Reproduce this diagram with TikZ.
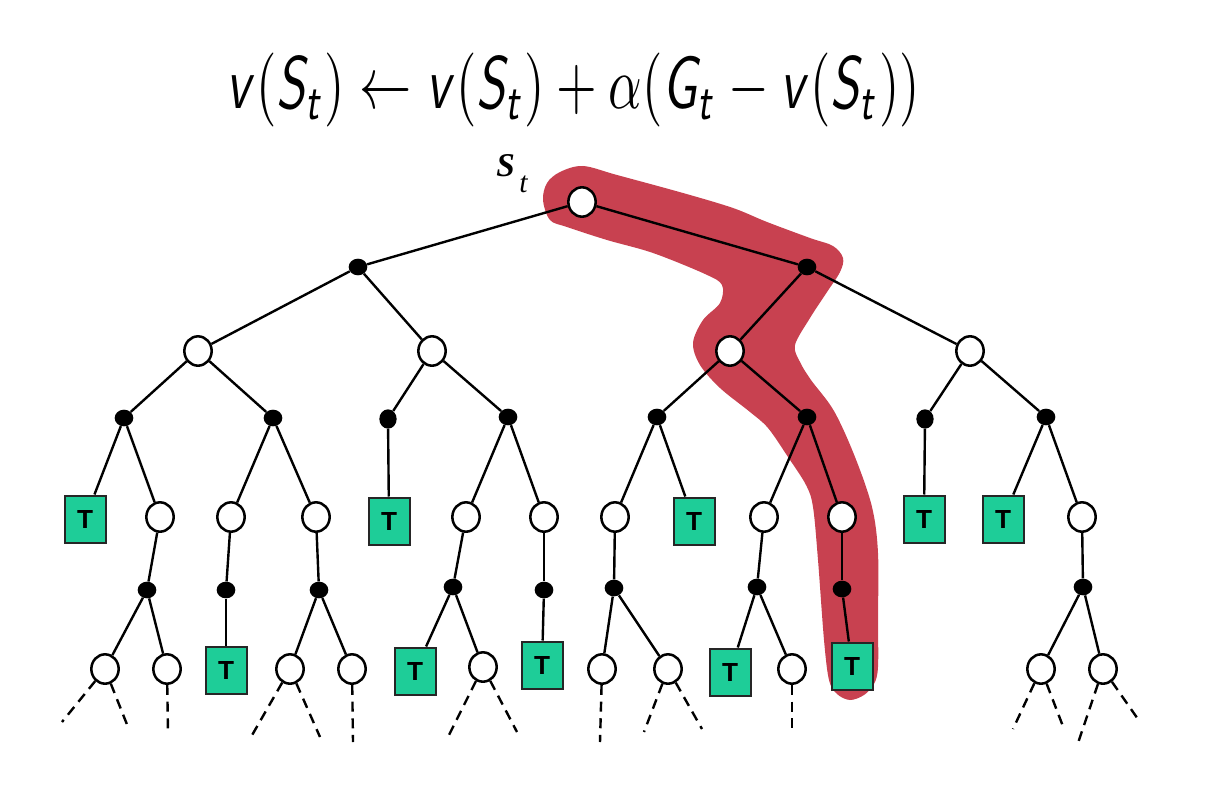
\documentclass[tikz,border=0pt]{standalone}
\usepackage{fontspec}
\usepackage{graphicx}
\usetikzlibrary{shapes.geometric}
\newfontfamily\tfont{Liberation Sans}
\newfontfamily\timesf{Liberation Serif}
\DeclareMathAlphabet{\mathsfsl}{OT1}{cmss}{m}{sl}
\definecolor{tgreen}{RGB}{30,205,152}
\definecolor{hl}{RGB}{200,65,80}
\newcommand{\myv}{\mathsfsl{v}}
\newcommand{\mySt}{\mathsfsl{S}_{\mathsfsl{t}}}
\newcommand{\myGt}{\mathsfsl{G}_{\mathsfsl{t}}}
\newcommand{\Tlab}{\resizebox{!}{13.5pt}{\tfont\bfseries T}}
\tikzset{
  stnode/.style={ellipse, draw, fill=white, line width=1.9pt, minimum width=20.5pt, minimum height=22pt, inner sep=0pt},
  acnode/.style={ellipse, fill=black, minimum width=14pt, minimum height=12.5pt, inner sep=0pt},
  actall/.style={acnode, minimum width=13pt, minimum height=14.5pt},
  term/.style={rectangle, draw=black!85, fill=tgreen, line width=1.5pt, minimum width=30.75pt, minimum height=35.25pt, inner sep=0pt, text=black},
  edg/.style={line width=1.8pt},
  dsh/.style={line width=1.8pt, dash pattern=on 7.5pt off 5pt},
}
\begin{document}
\begin{tikzpicture}[x=0.75pt,y=-0.75pt]
\useasboundingbox (0,0) rectangle (1206,788);
% highlight
\fill[hl] plot[smooth cycle, tension=0.55] coordinates {
(543,200) (547,183) (560,172) (583,166) (617,175) (683,193) (733,208) (767,222) (810,238) (833,246) (843,258) (840,272) (827,292) (810,318) (795,345) (800,362) (811,380) (834,411) (855,457) (872,507) (878,553) (878,620) (878,667) (874,684) (864,695) (850,700) (837,694) (829,680) (824,640) (818,560) (813,507) (806,485) (788,457) (768,428) (750,412) (720,388) (700,365) (693,343) (703,320) (720,303) (722,285) (705,274) (653,253) (607,240) (567,227) (550,220)};
% formula
\node[inner sep=0pt] (eq) at (573,90) {\resizebox*{520pt}{55.5pt}{$\myv(\mySt) \leftarrow \myv(\mySt) + \alpha(\myGt - \myv(\mySt))$}};
% S_t label
\node[anchor=base west, inner sep=0pt] (ls) at (496,177) {\resizebox{!}{16.5pt}{\timesf\bfseries\itshape S}};
\node[anchor=base west, inner sep=0pt] (lt) at (519,192) {\resizebox{!}{12.5pt}{\timesf\itshape t}};
% level 0-3
\node[stnode] (r) at (582,202) {};
\node[acnode] (a1) at (358,267) {};
\node[acnode] (a2) at (807,267) {};
\node[stnode] (s1) at (198,351) {};
\node[stnode] (s2) at (432,351) {};
\node[stnode] (s3) at (730,351) {};
\node[stnode] (s4) at (970,351) {};
\node[acnode] (b1) at (124,418) {};
\node[acnode] (b2) at (273,418) {};
\node[actall] (b3) at (388,419) {};
\node[acnode] (b4) at (508,417) {};
\node[acnode] (b5) at (657,417) {};
\node[acnode] (b6) at (807,417) {};
\node[actall] (b7) at (925,419) {};
\node[acnode] (b8) at (1046,417) {};
% level 4
\node[term] (t1) at (85,519) {\Tlab};
\node[stnode] (u1) at (160,517) {};
\node[stnode] (u2) at (231,517) {};
\node[stnode] (u3) at (316,517) {};
\node[term] (t2) at (389,521) {\Tlab};
\node[stnode] (u4) at (466,517) {};
\node[stnode] (u5) at (544,517) {};
\node[stnode] (u6) at (615,517) {};
\node[term] (t3) at (694,521) {\Tlab};
\node[stnode] (u7) at (764,517) {};
\node[stnode] (u8) at (842,517) {};
\node[term] (t4) at (924,519) {\Tlab};
\node[term] (t5) at (1003,519) {\Tlab};
\node[stnode] (u9) at (1082,517) {};
% level 5
\node[acnode] (c1) at (147,590) {};
\node[acnode] (c2) at (226,590) {};
\node[acnode] (c3) at (319,590) {};
\node[acnode] (c4) at (453,587) {};
\node[acnode] (c5) at (544,590) {};
\node[acnode] (c6) at (614,588) {};
\node[acnode] (c7) at (757,587) {};
\node[acnode] (c8) at (842,589) {};
\node[acnode] (c9) at (1083,587) {};
% level 6
\node[stnode] (w1) at (105,669) {};
\node[stnode] (w2) at (167,669) {};
\node[term] (t6) at (226,670) {\Tlab};
\node[stnode] (w3) at (290,669) {};
\node[stnode] (w4) at (352,669) {};
\node[term] (t7) at (415,671) {\Tlab};
\node[stnode] (w5) at (483,667) {};
\node[term] (t8) at (542,665) {\Tlab};
\node[stnode] (w6) at (602,669) {};
\node[stnode] (w7) at (668,669) {};
\node[term] (t9) at (730,672) {\Tlab};
\node[stnode] (w8) at (792,669) {};
\node[term] (t10) at (852,666) {\Tlab};
\node[stnode] (w9) at (1041,669) {};
\node[stnode] (w10) at (1103,669) {};
% dash ends
\coordinate (e1) at (62,722);
\coordinate (e2) at (128,727);
\coordinate (e3) at (168,733);
\coordinate (e4) at (251,737);
\coordinate (e5) at (320,737);
\coordinate (e6) at (353,742);
\coordinate (e7) at (448,737);
\coordinate (e8) at (517,732);
\coordinate (e9) at (600,742);
\coordinate (e10) at (644,732);
\coordinate (e11) at (702,729);
\coordinate (e12) at (792,732);
\coordinate (e13) at (1013,729);
\coordinate (e14) at (1064,729);
\coordinate (e15) at (1078,743);
\coordinate (e16) at (1140,722);
% edges
\draw[edg] (r) -- (a1); \draw[edg] (r) -- (a2);
\draw[edg] (a1) -- (s1); \draw[edg] (a1) -- (s2);
\draw[edg] (a2) -- (s3); \draw[edg] (a2) -- (s4);
\draw[edg] (s1) -- (b1); \draw[edg] (s1) -- (b2);
\draw[edg] (s2) -- (b3); \draw[edg] (s2) -- (b4);
\draw[edg] (s3) -- (b5); \draw[edg] (s3) -- (b6);
\draw[edg] (s4) -- (b7); \draw[edg] (s4) -- (b8);
\draw[edg] (b1) -- (t1); \draw[edg] (b1) -- (u1);
\draw[edg] (b2) -- (u2); \draw[edg] (b2) -- (u3);
\draw[edg] (b3) -- (t2);
\draw[edg] (b4) -- (u4); \draw[edg] (b4) -- (u5);
\draw[edg] (b5) -- (u6); \draw[edg] (b5) -- (t3);
\draw[edg] (b6) -- (u7); \draw[edg] (b6) -- (u8);
\draw[edg] (b7) -- (t4);
\draw[edg] (b8) -- (t5); \draw[edg] (b8) -- (u9);
\draw[edg] (u1) -- (c1); \draw[edg] (u2) -- (c2); \draw[edg] (u3) -- (c3);
\draw[edg] (u4) -- (c4); \draw[edg] (u5) -- (c5); \draw[edg] (u6) -- (c6);
\draw[edg] (u7) -- (c7); \draw[edg] (u8) -- (c8); \draw[edg] (u9) -- (c9);
\draw[edg] (c1) -- (w1); \draw[edg] (c1) -- (w2);
\draw[edg] (c2) -- (t6);
\draw[edg] (c3) -- (w3); \draw[edg] (c3) -- (w4);
\draw[edg] (c4) -- (t7); \draw[edg] (c4) -- (w5);
\draw[edg] (c5) -- (t8);
\draw[edg] (c6) -- (w6); \draw[edg] (c6) -- (w7);
\draw[edg] (c7) -- (t9); \draw[edg] (c7) -- (w8);
\draw[edg] (c8) -- (t10);
\draw[edg] (c9) -- (w9); \draw[edg] (c9) -- (w10);
% dashed continuations
\draw[dsh] (w1) -- (e1); \draw[dsh] (w1) -- (e2);
\draw[dsh] (w2) -- (e3);
\draw[dsh] (w3) -- (e4); \draw[dsh] (w3) -- (e5);
\draw[dsh] (w4) -- (e6);
\draw[dsh] (w5) -- (e7); \draw[dsh] (w5) -- (e8);
\draw[dsh] (w6) -- (e9);
\draw[dsh] (w7) -- (e10); \draw[dsh] (w7) -- (e11);
\draw[dsh] (w8) -- (e12);
\draw[dsh] (w9) -- (e13); \draw[dsh] (w9) -- (e14);
\draw[dsh] (w10) -- (e15); \draw[dsh] (w10) -- (e16);
\end{tikzpicture}
\end{document}
